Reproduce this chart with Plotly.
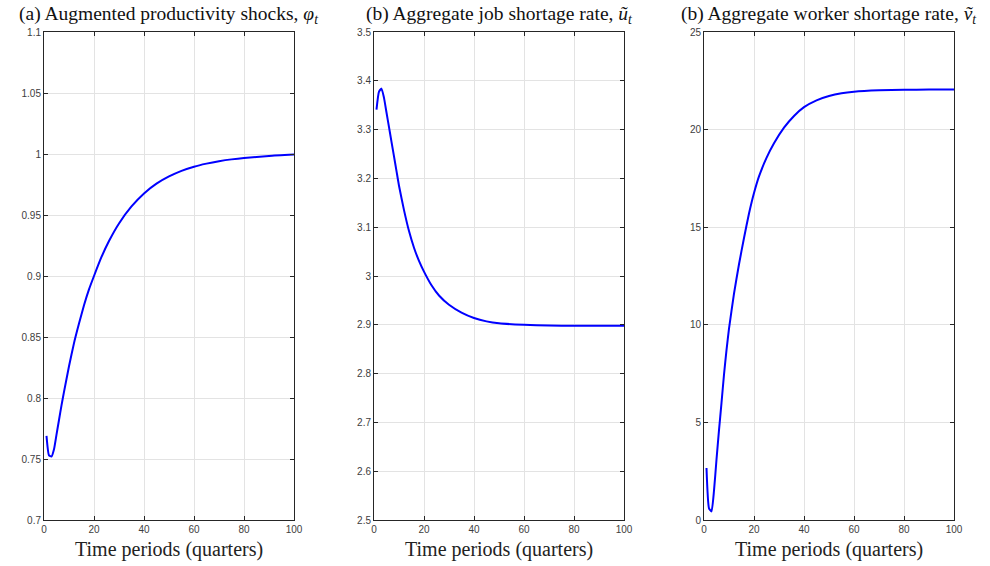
import plotly.graph_objects as go

# Panel (a): augmented productivity shocks
t_a = [1, 2, 3, 4, 5, 6, 7, 8, 10, 12, 14, 16, 18, 20, 23, 26, 30, 35, 40, 45, 50, 55, 60, 65, 70, 75, 80, 90, 100]
phi = [0.769, 0.753, 0.752, 0.758, 0.770, 0.782, 0.794, 0.805, 0.826, 0.845, 0.861, 0.876, 0.889, 0.900,
       0.9156, 0.9287, 0.9431, 0.957, 0.9677, 0.9757, 0.9816, 0.9862, 0.9896, 0.9921, 0.9941, 0.9956, 0.9967,
       0.9984, 0.9995]

# Panel (b): aggregate job shortage rate
t_b = [1, 2, 3, 4, 5, 6, 7, 8, 9, 10, 12, 14, 16, 18, 20, 23, 26, 30, 35, 40, 45, 50, 60, 70, 80, 100]
u_tilde = [3.341, 3.378, 3.384, 3.365, 3.335, 3.305, 3.275, 3.245, 3.215, 3.185, 3.135, 3.092, 3.058, 3.031,
           3.009, 2.981, 2.960, 2.941, 2.925, 2.914, 2.907, 2.903, 2.900, 2.8985, 2.898, 2.898]

# Panel (c): aggregate worker shortage rate
t_c = [1, 2, 3, 4, 5, 6, 7, 8, 9, 10, 12, 14, 16, 18, 20, 22, 25, 28, 32, 36, 40, 45, 50, 55, 60, 70, 80, 90, 100]
v_tilde = [2.66, 0.6, 0.44, 1.5, 3.1, 4.6, 6.0, 7.45, 8.7, 9.8, 11.6, 13.1, 14.45, 15.7, 16.75, 17.6, 18.55,
           19.3, 20.1, 20.7, 21.15, 21.5, 21.72, 21.86, 21.94, 22.01, 22.04, 22.05, 22.06]

x_ticks = [0, 20, 40, 60, 80, 100]
y_ticks_a = [0.7, 0.75, 0.8, 0.85, 0.9, 0.95, 1.0, 1.05, 1.1]
y_text_a = ["0.7", "0.75", "0.8", "0.85", "0.9", "0.95", "1", "1.05", "1.1"]
y_ticks_b = [2.5, 2.6, 2.7, 2.8, 2.9, 3.0, 3.1, 3.2, 3.3, 3.4, 3.5]
y_text_b = ["2.5", "2.6", "2.7", "2.8", "2.9", "3", "3.1", "3.2", "3.3", "3.4", "3.5"]
y_ticks_c = [0, 5, 10, 15, 20, 25]
y_text_c = ["0", "5", "10", "15", "20", "25"]

titles = [
    "(a) Augmented productivity shocks, <i>φ<sub>t</sub></i>",
    "(b) Aggregate job shortage rate, <i>ũ<sub>t</sub></i>",
    "(b) Aggregate worker shortage rate, <i>ṽ<sub>t</sub></i>",
]
xlabel = "Time periods (quarters)"

W, H = 990, 566
panels_px = [(44, 294), (374, 624), (704, 954)]
top_px, bot_px = 32, 520
ydom = [(H - bot_px) / H, (H - top_px) / H]

fig = go.Figure()
series = [(t_a, phi), (t_b, u_tilde), (t_c, v_tilde)]
ranges = [(0.7, 1.1), (2.5, 3.5), (0, 25)]
yticks = [(y_ticks_a, y_text_a), (y_ticks_b, y_text_b), (y_ticks_c, y_text_c)]

serif = "Liberation Serif, DejaVu Serif, serif"
sans = "Liberation Sans, Arial, sans-serif"

for i, ((tx, ty), (x0, x1)) in enumerate(zip(series, panels_px)):
    sfx = "" if i == 0 else str(i + 1)
    fig.add_trace(go.Scatter(x=tx, y=ty, mode="lines",
                             line=dict(color="#0000ff", width=2, shape="spline", smoothing=0.5),
                             xaxis="x" + sfx, yaxis="y" + sfx, showlegend=False))
    axis_common = dict(showline=True, linecolor="#262626", linewidth=1, mirror="allticks",
                       ticks="inside", ticklen=4, tickcolor="#262626", tickwidth=1,
                       showgrid=True, gridcolor="#e3e3e3", gridwidth=1, zeroline=False,
                       automargin=False,
                       tickfont=dict(family=sans, size=10, color="#3d3d3d"))
    fig.layout["xaxis" + sfx] = dict(domain=[x0 / W, x1 / W], range=[0, 100], tickvals=x_ticks,
                                     anchor="y" + sfx, **axis_common)
    fig.layout["yaxis" + sfx] = dict(domain=ydom, range=list(ranges[i]), tickvals=yticks[i][0],
                                     ticktext=yticks[i][1], anchor="x" + sfx, **axis_common)
    fig.add_annotation(text=titles[i], x=(x0 + x1) / 2 / W, y=(H - 15) / H, xref="paper", yref="paper",
                       showarrow=False, xanchor="center", yanchor="middle",
                       font=dict(family=serif, size=19.5, color="#111"))
    fig.add_annotation(text=xlabel, x=(x0 + x1) / 2 / W, y=(H - 549) / H, xref="paper", yref="paper",
                       showarrow=False, xanchor="center", yanchor="middle",
                       font=dict(family=serif, size=20, color="#222"))

fig.update_layout(width=W, height=H, margin=dict(l=0, r=0, t=0, b=0),
                  plot_bgcolor="white", paper_bgcolor="white")
fig.write_html("out.html")
